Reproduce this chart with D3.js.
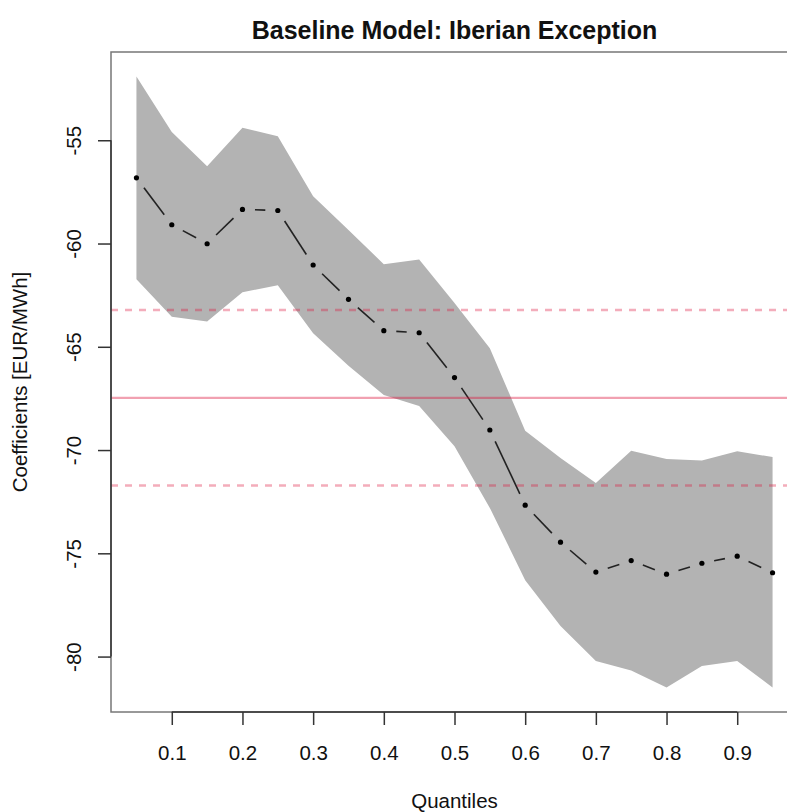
<!DOCTYPE html>
<html>
<head>
<meta charset="utf-8">
<script src="https://cdn.jsdelivr.net/npm/d3@7"></script>
<style>
  html, body { margin: 0; padding: 0; background: #fff; }
  svg { display: block; font-family: "Liberation Sans", Arial, Helvetica, sans-serif; }
</style>
</head>
<body>
<svg id="chart" width="787" height="812"></svg>
<script>
// Quantile regression coefficients for the Iberian Exception dummy
const taus  = [0.05, 0.10, 0.15, 0.20, 0.25, 0.30, 0.35, 0.40, 0.45, 0.50,
               0.55, 0.60, 0.65, 0.70, 0.75, 0.80, 0.85, 0.90, 0.95];
const coef  = [-56.82, -59.09, -60.01, -58.35, -58.40, -61.04, -62.70, -64.22, -64.32, -66.49,
               -69.03, -72.67, -74.46, -75.91, -75.35, -76.01, -75.48, -75.14, -75.94];
const upper = [-51.91, -54.60, -56.26, -54.39, -54.81, -57.71, -59.35, -61.00, -60.77, -62.88,
               -65.07, -69.06, -70.39, -71.59, -70.03, -70.43, -70.50, -70.06, -70.34];
const lower = [-61.73, -63.54, -63.78, -62.36, -62.02, -64.34, -65.92, -67.33, -67.87, -69.82,
               -72.80, -76.30, -78.52, -80.21, -80.67, -81.50, -80.46, -80.21, -81.50];

// OLS estimate and its confidence bounds
const olsEstimate = -67.47;
const olsBounds   = [-63.22, -71.72];

const xTicks = [0.1, 0.2, 0.3, 0.4, 0.5, 0.6, 0.7, 0.8, 0.9];
const xTickLabels = ["0.1", "0.2", "0.3", "0.4", "0.5", "0.6", "0.7", "0.8", "0.9"];
const yTicks = [-55, -60, -65, -70, -75, -80];
const yTickLabels = ["-55", "-60", "-65", "-70", "-75", "-80"];

const titleText = "Baseline Model: Iberian Exception";
const xTitle = "Quantiles";
const yTitle = "Coefficients [EUR/MWh]";

// plot region
const box = { left: 111, right: 798, top: 52, bottom: 712 };

// 4% range padding, as in base graphics
function padded(lo, hi) { const d = (hi - lo) * 0.04; return [lo - d, hi + d]; }

const x = d3.scaleLinear()
  .domain(padded(d3.min(taus), d3.max(taus)))
  .range([box.left, box.right]);
const y = d3.scaleLinear()
  .domain(padded(d3.min(lower), d3.max(upper)))
  .range([box.bottom, box.top]);

const svg = d3.select("#chart");
const rows = taus.map((t, i) => ({ t, c: coef[i], lo: lower[i], hi: upper[i] }));

svg.append("defs").append("clipPath").attr("id", "plotClip")
  .append("rect")
  .attr("x", box.left).attr("y", box.top)
  .attr("width", box.right - box.left).attr("height", box.bottom - box.top);

const plot = svg.append("g").attr("clip-path", "url(#plotClip)");

// confidence band
plot.append("path")
  .datum(rows)
  .attr("fill", "#b3b3b3")
  .attr("d", d3.area().x(d => x(d.t)).y0(d => y(d.lo)).y1(d => y(d.hi)));

// coefficient line (points joined with gaps around each point)
const gap = 12.5;
const segs = d3.pairs(rows).map(([a, b]) => {
  const x1 = x(a.t), y1 = y(a.c), x2 = x(b.t), y2 = y(b.c);
  const len = Math.hypot(x2 - x1, y2 - y1);
  const ux = (x2 - x1) / len, uy = (y2 - y1) / len;
  return { x1: x1 + ux * gap, y1: y1 + uy * gap, x2: x2 - ux * gap, y2: y2 - uy * gap, ok: len > 2 * gap };
}).filter(s => s.ok);

plot.selectAll("line.seg").data(segs).join("line")
  .attr("class", "seg")
  .attr("x1", d => d.x1).attr("y1", d => d.y1)
  .attr("x2", d => d.x2).attr("y2", d => d.y2)
  .attr("stroke", "#222").attr("stroke-width", 1.6);

plot.selectAll("circle.pt").data(rows).join("circle")
  .attr("class", "pt")
  .attr("cx", d => x(d.t)).attr("cy", d => y(d.c))
  .attr("r", 2.6).attr("fill", "#000");

// OLS reference lines
plot.append("line")
  .attr("x1", box.left).attr("x2", box.right)
  .attr("y1", y(olsEstimate)).attr("y2", y(olsEstimate))
  .attr("stroke", "rgb(220,20,60)").attr("stroke-opacity", 0.4).attr("stroke-width", 2.2);

plot.selectAll("line.olsci").data(olsBounds).join("line")
  .attr("class", "olsci")
  .attr("x1", box.left).attr("x2", box.right)
  .attr("y1", d => y(d)).attr("y2", d => y(d))
  .attr("stroke", "rgb(220,20,60)").attr("stroke-opacity", 0.35).attr("stroke-width", 2.4)
  .attr("stroke-dasharray", "7,7");

// frame
svg.append("rect")
  .attr("x", box.left).attr("y", box.top)
  .attr("width", box.right - box.left).attr("height", box.bottom - box.top)
  .attr("fill", "none").attr("stroke", "#777").attr("stroke-width", 1.5);

// axes
const fontSize = 20.5;

const xAxis = d3.axisBottom(x)
  .tickValues(xTicks)
  .tickFormat((d, i) => xTickLabels[i])
  .tickSize(13).tickPadding(8).tickSizeOuter(0);
const gx = svg.append("g").attr("transform", `translate(0,${box.bottom})`).call(xAxis);
gx.select(".domain").attr("d", `M${x(xTicks[0])},0H${x(xTicks[xTicks.length - 1])}`)
  .attr("stroke", "#333").attr("stroke-width", 1.5);
gx.selectAll(".tick line").attr("stroke", "#333").attr("stroke-width", 1.5);
gx.selectAll(".tick text")
  .attr("font-size", fontSize).attr("font-family", null).attr("fill", "#111")
  .attr("dy", null).attr("y", 48).attr("dominant-baseline", null);

const yAxis = d3.axisLeft(y)
  .tickValues(yTicks)
  .tickFormat((d, i) => yTickLabels[i])
  .tickSize(13).tickSizeOuter(0);
const gy = svg.append("g").attr("transform", `translate(${box.left},0)`).call(yAxis);
gy.select(".domain").attr("d", `M0,${y(yTicks[0])}V${y(yTicks[yTicks.length - 1])}`)
  .attr("stroke", "#333").attr("stroke-width", 1.5);
gy.selectAll(".tick line").attr("stroke", "#333").attr("stroke-width", 1.5);
gy.selectAll(".tick text")
  .attr("font-size", fontSize).attr("font-family", null).attr("fill", "#111")
  .attr("x", null).attr("dy", null)
  .attr("text-anchor", "middle")
  .attr("transform", `translate(${81 - box.left},0) rotate(-90)`);
gy.attr("font-size", null); gx.attr("font-size", null);

// titles
svg.append("text")
  .attr("x", (box.left + box.right) / 2).attr("y", 39)
  .attr("text-anchor", "middle").attr("font-weight", "bold")
  .attr("font-size", 25).attr("fill", "#111")
  .text(titleText);

svg.append("text")
  .attr("x", (box.left + box.right) / 2).attr("y", 808)
  .attr("text-anchor", "middle").attr("font-size", fontSize).attr("fill", "#111")
  .text(xTitle);

svg.append("text")
  .attr("transform", `translate(27,${(box.top + box.bottom) / 2}) rotate(-90)`)
  .attr("text-anchor", "middle").attr("font-size", fontSize).attr("fill", "#111")
  .text(yTitle);
</script>
</body>
</html>
